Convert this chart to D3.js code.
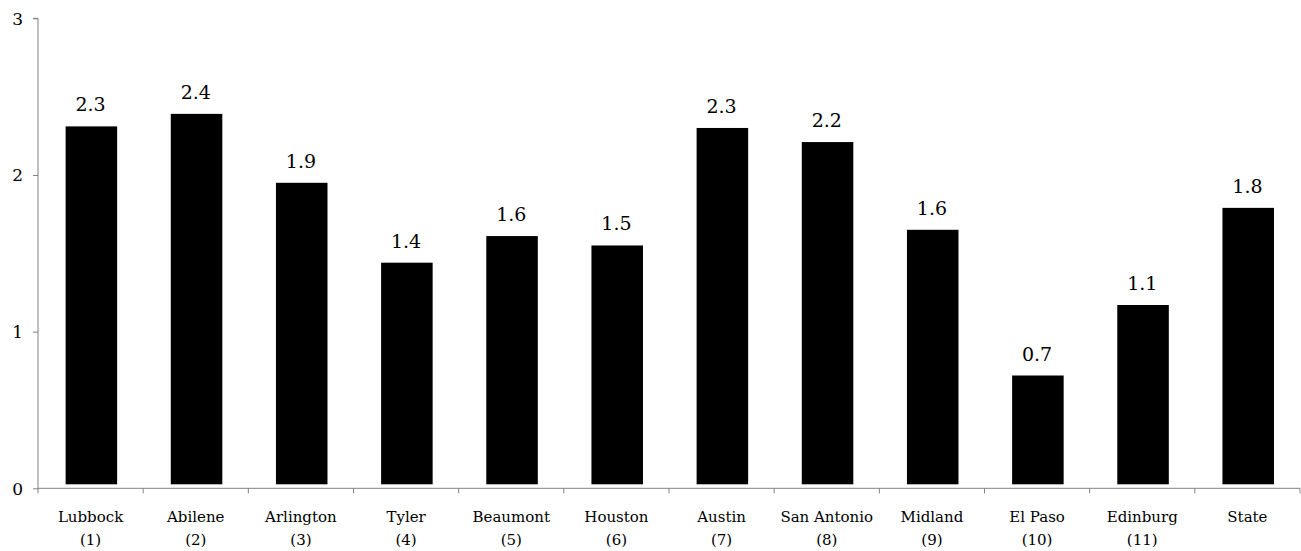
<!DOCTYPE html>
<html>
<head>
<meta charset="utf-8">
<script src="https://cdn.jsdelivr.net/npm/d3@7"></script>
<style>
  html, body { margin: 0; padding: 0; background: #fff; }
  svg { display: block; }
</style>
</head>
<body>
<svg id="chart" width="1301" height="551"></svg>
<script>
const categories = ["Lubbock", "Abilene", "Arlington", "Tyler", "Beaumont", "Houston", "Austin", "San Antonio", "Midland", "El Paso", "Edinburg", "State"];
const subLabels = ["(1)", "(2)", "(3)", "(4)", "(5)", "(6)", "(7)", "(8)", "(9)", "(10)", "(11)", ""];
const values = [2.31, 2.39, 1.95, 1.44, 1.61, 1.55, 2.30, 2.21, 1.65, 0.72, 1.17, 1.79];
const valueLabels = ["2.3", "2.4", "1.9", "1.4", "1.6", "1.5", "2.3", "2.2", "1.6", "0.7", "1.1", "1.8"];
const yTicks = [0, 1, 2, 3];

const FONT = "'DejaVu Serif', 'Liberation Serif', serif";
const svg = d3.select("#chart").style("font-family", FONT);
const mLeft = 38, mRight = 1300, mTop = 18.3, mBottom = 488.3;

const x = d3.scaleBand().domain(categories).range([mLeft, mRight]).paddingInner(0.51).paddingOuter(0.255);
const y = d3.scaleLinear().domain([0, 3]).range([mBottom, mTop]);
const axisColor = "#808080";

// Bars
svg.append("g").selectAll("rect").data(values).enter().append("rect")
  .attr("x", (d, i) => x(categories[i]) + 0.8)
  .attr("y", d => y(d))
  .attr("width", x.bandwidth())
  .attr("height", d => y(0) - 4 - y(d))
  .attr("fill", "#000");

// Value labels
svg.append("g").selectAll("text").data(values).enter().append("text")
  .attr("x", (d, i) => x(categories[i]) + x.bandwidth() / 2)
  .attr("y", d => y(d) - 15)
  .attr("text-anchor", "middle")
  .style("font-family", FONT)
  .style("font-size", "19px")
  .attr("fill", "#000")
  .text((d, i) => valueLabels[i]);

// Y axis
const yAxis = d3.axisLeft(y).tickValues(yTicks).tickSize(5).tickPadding(10).tickFormat(d3.format("d"));
const gy = svg.append("g").attr("transform", `translate(${mLeft},0)`).call(yAxis);
gy.attr("font-family", null).attr("font-size", null);
gy.select(".domain").attr("stroke", axisColor).attr("d", `M-5,${mTop}H0V${mBottom}`);
gy.selectAll(".tick line").attr("stroke", axisColor);
gy.selectAll(".tick text").style("font-size", "17px").style("font-family", FONT).attr("fill", "#000").attr("dy", "0.35em");

// X axis line and ticks at band boundaries
const gx = svg.append("g");
gx.append("line").attr("x1", mLeft).attr("x2", mRight).attr("y1", y(0)).attr("y2", y(0)).attr("stroke", axisColor);
const boundaries = categories.map(c => x(c) - x.step() * x.paddingInner() / 2).concat([mRight]);
gx.selectAll("line.tk").data(boundaries).enter().append("line").attr("class", "tk")
  .attr("x1", d => d).attr("x2", d => d)
  .attr("y1", y(0)).attr("y2", y(0) + 5)
  .attr("stroke", axisColor);

// Category labels
const cl = gx.selectAll("text.cat").data(categories).enter().append("text").attr("class", "cat")
  .attr("text-anchor", "middle")
  .style("font-family", FONT)
  .style("font-size", "15px")
  .attr("fill", "#000");
cl.append("tspan").attr("x", c => x(c) + x.bandwidth() / 2).attr("y", 521.7).text(c => c);
cl.append("tspan").attr("x", c => x(c) + x.bandwidth() / 2).attr("y", 545).text((c, i) => subLabels[i]);
</script>
</body>
</html>
